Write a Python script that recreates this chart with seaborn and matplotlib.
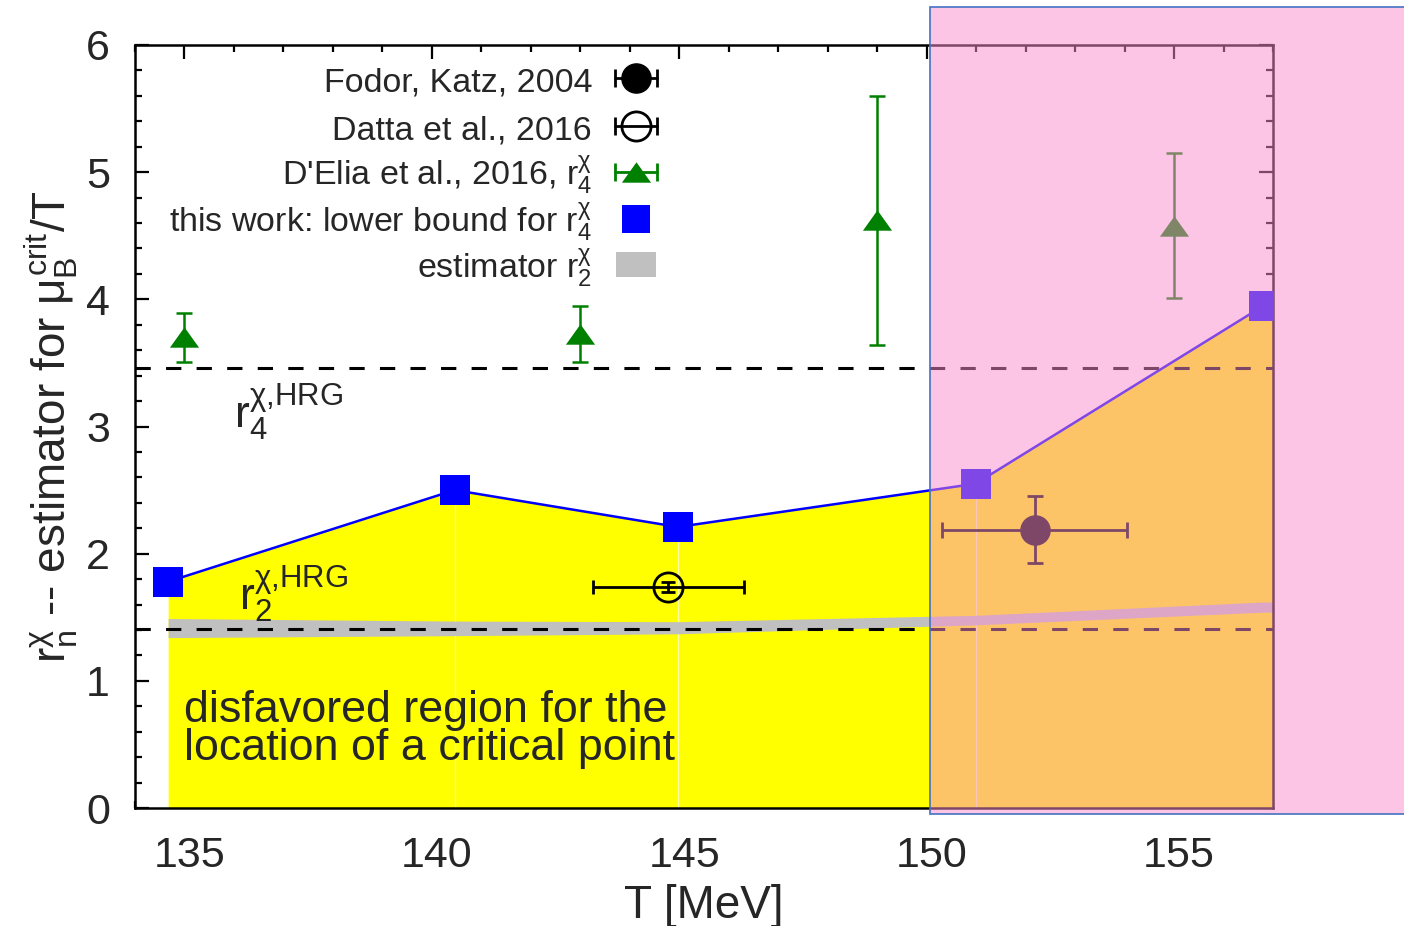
import numpy as np
import matplotlib
matplotlib.use("Agg")
import matplotlib.pyplot as plt
import seaborn as sns
from matplotlib.patches import Rectangle
from matplotlib.transforms import ScaledTranslation

# ---- data -------------------------------------------------------------
# this work: lower bound for r4^chi
T_this = [134.67, 140.46, 144.97, 150.99, 156.81]
r4_lower = [1.78, 2.50, 2.21, 2.55, 3.95]

# estimator r2^chi (band, lower / upper edge)
r2_low = [1.34, 1.355, 1.37, 1.44, 1.54]
r2_high = [1.49, 1.47, 1.465, 1.515, 1.62]

# D'Elia et al., 2016, r4^chi
T_delia = [135.0, 143.0, 149.0, 155.0]
r4_delia = [3.70, 3.73, 4.62, 4.58]
r4_delia_err = [0.19, 0.22, 0.98, 0.57]

# Datta et al., 2016
T_datta = [144.78]
r_datta = [1.74]
T_datta_err = [1.53]
r_datta_err = [0.04]

# Fodor, Katz, 2004
T_fodor = [152.18]
r_fodor = [2.19]
T_fodor_err = [1.86]
r_fodor_err = [0.26]

# hadron resonance gas values
r4_hrg = 3.46
r2_hrg = 1.41

# start of the shaded crossover region
T_shade = 150.06

x_ticks = [135, 140, 145, 150, 155]
y_ticks = [0, 1, 2, 3, 4, 5, 6]
x_range = (134, 157)
y_range = (0, 6)

legend_labels = [
    "Fodor, Katz, 2004",
    "Datta et al., 2016",
    r"D'Elia et al., 2016, r$_4^\chi$",
    r"this work: lower bound for r$_4^\chi$",
    r"estimator r$_2^\chi$",
]

# ---- style ------------------------------------------------------------
sns.set_style("ticks")
plt.rcParams["font.family"] = ["Liberation Sans", "DejaVu Sans"]
plt.rcParams["mathtext.fontset"] = "custom"
plt.rcParams["mathtext.rm"] = "Liberation Sans"
plt.rcParams["mathtext.it"] = "Liberation Sans"
plt.rcParams["mathtext.sf"] = "Liberation Sans"
plt.rcParams["mathtext.bf"] = "Liberation Sans:bold"

W, H = 1404, 926
fig = plt.figure(figsize=(W / 100, H / 100), dpi=100)
fig.patch.set_facecolor("white")
ax = fig.add_axes([135 / W, 118 / H, 1138 / W, 763 / H])
ax.set_facecolor("white")
ax.set_xlim(*x_range)
ax.set_ylim(*y_range)

YELLOW = "#ffff00"
GREY = "#c0c0c0"
GREEN = "#008000"
BLUE = "#0000ff"

# disfavored region below the lower bound, carried to the right edge
x_fill = list(T_this) + [ax.get_xlim()[1]]
y_fill = list(r4_lower) + [r4_lower[-1]]
ax.fill_between(x_fill, 0, y_fill, color=YELLOW, lw=0, zorder=1)
ax.vlines(T_this[1:-1], 0, r4_lower[1:-1], color="#ffffa8", lw=0.9, zorder=1.2)

# r2 estimator band
x_band = list(T_this) + [ax.get_xlim()[1]]
ax.fill_between(x_band, list(r2_low) + [r2_low[-1]], list(r2_high) + [r2_high[-1]],
                color=GREY, lw=0, zorder=1.5)

# HRG reference lines
ax.axhline(r4_hrg, color="black", lw=2.2, dashes=(5, 5), zorder=2)
ax.axhline(r2_hrg, color="black", lw=2.2, dashes=(5, 5), zorder=2)

# lower bound from this work
sns.lineplot(x=T_this, y=r4_lower, ax=ax, color=BLUE, lw=1.8, marker="s",
             markersize=21, markeredgewidth=0, zorder=4, legend=False)

# D'Elia et al.
tri = [(-1, -0.7), (1, -0.7), (0, 0.7)]
ax.errorbar(T_delia, r4_delia, yerr=r4_delia_err, fmt="none", ecolor=GREEN,
            elinewidth=1.8, capsize=6, capthick=1.8, zorder=3)
sns.scatterplot(x=T_delia, y=r4_delia, ax=ax, color=GREEN, marker=tri, s=21 ** 2,
                linewidth=0, zorder=3.5, legend=False)

# Datta et al.
ax.errorbar(T_datta, r_datta, xerr=T_datta_err, yerr=r_datta_err, fmt="o",
            mfc="none", mec="black", mew=2, ms=21, color="black",
            elinewidth=2, capsize=5, capthick=2, zorder=3)

# Fodor, Katz
ax.errorbar(T_fodor, r_fodor, xerr=T_fodor_err, yerr=r_fodor_err, fmt="o",
            color="black", ms=21, elinewidth=2, capsize=6, capthick=2, zorder=3)

# labels for HRG lines and shaded region
ax.text(136.0, 2.99, r"r$_4^{\chi{,}\mathrm{HRG}}$", fontsize=32, va="baseline", zorder=5)
ax.text(136.1, 1.56, r"r$_2^{\chi{,}\mathrm{HRG}}$", fontsize=32, va="baseline", zorder=5)
ax.text(135.0, 0.68, "disfavored region for the", fontsize=32.3, va="baseline", zorder=5)
ax.text(135.0, 0.375, "location of a critical point", fontsize=32.3, va="baseline", zorder=5)

# axes, ticks
ax.set_xticks(x_ticks)
ax.set_yticks(y_ticks)
ax.set_xticks(np.arange(x_range[0], x_range[1] + 0.01, 1), minor=True)
ax.set_yticks(np.arange(0, 6.01, 0.2), minor=True)
ax.tick_params(which="both", direction="in", top=True, right=True, width=1.6,
               color="black")
ax.tick_params(which="major", length=10, labelsize=31)
ax.tick_params(which="minor", length=5)
ax.tick_params(axis="x", which="major", pad=20)
ax.tick_params(axis="y", which="major", pad=18)
for sp in ax.spines.values():
    sp.set_linewidth(1.8)
    sp.set_color("black")
    sp.set_visible(True)

# x tick labels sit slightly right of their ticks
shift = ScaledTranslation(5 / 100, 0, fig.dpi_scale_trans)
for lbl in ax.get_xticklabels():
    lbl.set_transform(lbl.get_transform() + shift)

ax.set_xlabel("T [MeV]", fontsize=33, labelpad=6)
ax.set_ylabel(r"r$_n^\chi$ -- estimator for $\mu_B^{\mathrm{crit}}$/T", fontsize=33,
              labelpad=4)

# ---- key (right-aligned labels, symbols to their right) ----------------
key_text_x = 0.4016
key_x = 0.4402
key_y = [0.9567, 0.8938, 0.8335, 0.7719, 0.7117]
baseline_off = 13 / 763
bar_half = 0.0185
cap_ms = 13
ta = ax.transAxes

for lab, yk in zip(legend_labels, key_y):
    ax.text(key_text_x, yk - baseline_off, lab, transform=ta, ha="right",
            va="baseline", fontsize=24.5, zorder=6)

def key_bar(yk, color):
    ax.plot([key_x - bar_half, key_x + bar_half], [yk, yk], color=color, lw=2,
            transform=ta, clip_on=False, zorder=6)
    ax.plot([key_x - bar_half, key_x + bar_half], [yk, yk], ls="none", marker="|",
            ms=cap_ms, mew=2, color=color, transform=ta, clip_on=False, zorder=6)

key_bar(key_y[0], "black")
ax.plot([key_x], [key_y[0]], marker="o", ms=21, color="black", ls="none",
        transform=ta, clip_on=False, zorder=7)
key_bar(key_y[1], "black")
ax.plot([key_x], [key_y[1]], marker="o", ms=21, mfc="none", mec="black", mew=2,
        ls="none", transform=ta, clip_on=False, zorder=7)
key_bar(key_y[2], GREEN)
ax.plot([key_x], [key_y[2]], marker=tri, ms=21, color=GREEN, mew=0, ls="none",
        transform=ta, clip_on=False, zorder=7)
ax.plot([key_x], [key_y[3]], marker="s", ms=20, color=BLUE, mew=0, ls="none",
        transform=ta, clip_on=False, zorder=7)
ax.add_patch(Rectangle((key_x - 20 / 1138, key_y[4] - 12.5 / 763), 40 / 1138,
                       25 / 763, transform=ta, facecolor=GREY, lw=0,
                       clip_on=False, zorder=6))

# shaded crossover region (drawn on the figure, over the axes)
fx = fig.transFigure.inverted().transform(ax.transData.transform((T_shade, 0)))[0]
shade = Rectangle((fx, 1 - 814 / H), 1.02 - fx, (814 - 7) / H,
                  transform=fig.transFigure,
                  facecolor=(251 / 255, 141 / 255, 204 / 255, 0.51),
                  edgecolor="#4472c4", lw=1.2, zorder=10)
fig.add_artist(shade)

fig.savefig("out.png", dpi=100)
